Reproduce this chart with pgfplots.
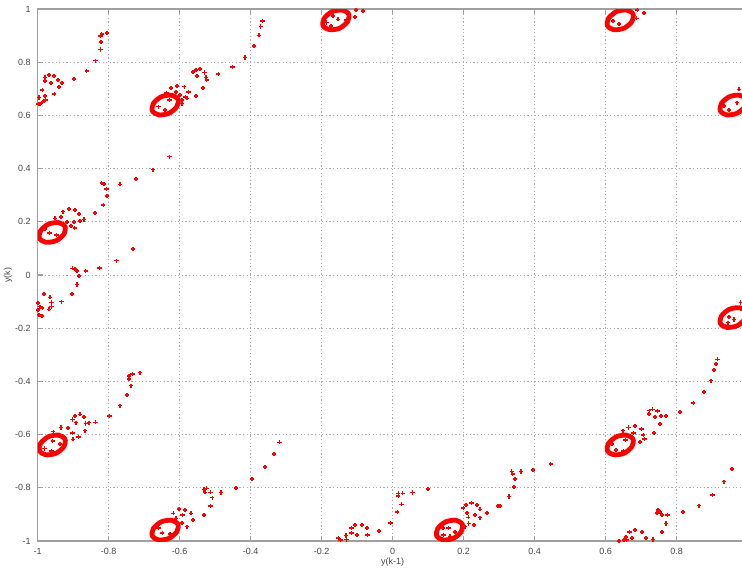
\documentclass[border=0pt]{standalone}
\usepackage{fontspec}
\setmainfont{Liberation Sans}
\usepackage{pgfplots}
\pgfplotsset{compat=1.18}
\begin{document}
\begin{tikzpicture}
\begin{axis}[
  at={(0,0)}, anchor=south west,
  scale only axis, width=355pt, height=266pt,
  xmin=-1, xmax=1, ymin=-1, ymax=1,
  xtick={-1,-0.8,-0.6,-0.4,-0.2,0,0.2,0.4,0.6,0.8,1},
  xticklabels={-1,-0.8,-0.6,-0.4,-0.2,0,0.2,0.4,0.6,0.8,{}},
  ytick={-1,-0.8,-0.6,-0.4,-0.2,0,0.2,0.4,0.6,0.8,1},
  yticklabels={-1,-0.8,-0.6,-0.4,-0.2,0,0.2,0.4,0.6,0.8,1},
  grid=major,
  major grid style={gray!65, line width=0.45pt, dash pattern=on 0.6pt off 1.2pt},
  axis line style={gray!75, line width=0.6pt},
  tick style={gray!75, line width=0.6pt},
  tick align=inside, major tick length=2.5pt,
  ticklabel style={font=\fontsize{4.5}{5}\selectfont, text=black!72},
  label style={font=\fontsize{4.5}{5}\selectfont, text=black!72},
  xlabel={y(k-1)}, ylabel={y(k)},
  xlabel style={at={(axis description cs:0.5,-0.0395)}, anchor=center},
  ylabel style={at={(axis description cs:-0.0418,0.5)}, anchor=center, rotate=0},
]
% scattered points
\addplot[only marks, mark=+, color=red, mark size=1.05pt, mark options={draw=red, fill=red, line width=0.8pt, solid}] coordinates {
(-0.998,0.643) (-0.994,0.643) (-0.996,0.667) (-0.987,0.695) (-0.979,0.674) (-0.986,0.651) (-0.978,0.658) (-0.979,0.730) (-0.979,0.743) (-0.969,0.752) (-0.963,0.721) (-0.954,0.749) (-0.953,0.680) (-0.942,0.733) (-0.932,0.721) (-0.940,0.706) (-0.897,0.737) (-0.862,0.768) (-0.837,0.806) (-0.823,0.848) (-0.821,0.876) (-0.823,0.898) (-0.820,0.906) (-0.804,0.909)
(-0.629,0.445) (-0.676,0.396) (-0.723,0.360) (-0.768,0.341) (-0.820,0.345) (-0.813,0.342) (-0.806,0.323) (-0.804,0.298)
(-0.625,0.702) (-0.607,0.711) (-0.599,0.677) (-0.593,0.658) (-0.584,0.670) (-0.575,0.687) (-0.587,0.708) (-0.594,0.645) (-0.579,0.664) (-0.641,0.620) (-0.660,0.633) (-0.629,0.658) (-0.610,0.689) (-0.637,0.685)
(-0.562,0.764) (-0.554,0.771) (-0.543,0.774) (-0.552,0.749) (-0.530,0.761) (-0.526,0.743) (-0.524,0.733) (-0.534,0.702) (-0.554,0.674) (-0.491,0.756) (-0.451,0.781) (-0.416,0.818)
(-0.391,0.861) (-0.377,0.901) (-0.372,0.934) (-0.367,0.955)
(-0.103,0.996) (-0.083,0.992) (-0.106,0.971) (-0.130,0.959) (-0.186,0.949) (-0.169,0.974) (-0.154,0.961) (-0.174,0.936)
(0.689,0.996) (0.708,0.986) (0.687,0.965) (0.621,0.956) (0.638,0.944)
(0.975,0.698) (0.933,0.635) (0.948,0.620) (0.969,0.648)
(-0.951,0.213) (-0.935,0.219) (-0.928,0.238) (-0.912,0.248) (-0.895,0.244) (-0.884,0.229) (-0.898,0.200) (-0.907,0.184) (-0.896,0.176) (-0.881,0.203) (-0.870,0.209) (-0.918,0.200) (-0.839,0.232) (-0.815,0.263) (-0.967,0.157) (-0.947,0.150) (-0.979,0.173)
(-0.731,0.098) (-0.778,0.054) (-0.826,0.027) (-0.865,0.015) (-0.890,0.015) (-0.902,0.025) (-0.895,0.022) (-0.884,-0.004) (-0.889,-0.036) (-0.904,-0.071) (-0.933,-0.100) (-0.961,-0.103) (-0.965,-0.084) (-0.961,-0.119) (-0.968,-0.129) (-0.983,-0.071) (-0.999,-0.106) (-0.994,-0.119) (-0.987,-0.125) (-0.996,-0.150) (-0.988,-0.154) (-0.999,-0.132)
(-0.712,-0.367) (-0.733,-0.373) (-0.742,-0.379) (-0.742,-0.391) (-0.738,-0.416) (-0.748,-0.451) (-0.768,-0.491) (-0.798,-0.529) (-0.837,-0.554)
(-0.881,-0.524) (-0.895,-0.529) (-0.902,-0.543) (-0.892,-0.555) (-0.869,-0.533) (-0.865,-0.558) (-0.856,-0.555) (-0.867,-0.585) (-0.885,-0.610) (-0.902,-0.593) (-0.914,-0.576) (-0.935,-0.573) (-0.956,-0.589) (-0.900,-0.618) (-0.958,-0.624) (-0.937,-0.635) (-0.981,-0.652) (-0.961,-0.662)
(-0.441,-0.800) (-0.484,-0.818) (-0.532,-0.806) (-0.524,-0.802) (-0.529,-0.817) (-0.513,-0.817) (-0.508,-0.837) (-0.513,-0.868) (-0.532,-0.902) (-0.562,-0.921) (-0.569,-0.896) (-0.585,-0.883) (-0.602,-0.880) (-0.618,-0.896) (-0.592,-0.902) (-0.580,-0.946) (-0.594,-0.933) (-0.610,-0.915) (-0.660,-0.950) (-0.649,-0.969) (-0.627,-0.974)
(-0.397,-0.767) (-0.360,-0.721) (-0.334,-0.673) (-0.319,-0.629)
(-0.153,-0.988) (-0.147,-0.996) (-0.130,-0.994) (-0.132,-0.979) (-0.116,-0.971) (-0.116,-0.952) (-0.106,-0.940) (-0.087,-0.940) (-0.100,-0.977) (-0.073,-0.950) (-0.071,-0.977) (-0.038,-0.962) (-0.006,-0.933) (0.013,-0.892) (0.025,-0.862) (0.016,-0.821) (0.016,-0.831) (0.028,-0.821) (0.056,-0.818) (0.100,-0.805)
(0.199,-0.877) (0.206,-0.865) (0.222,-0.858) (0.238,-0.865) (0.246,-0.881) (0.265,-0.894) (0.246,-0.912) (0.232,-0.902) (0.229,-0.940) (0.213,-0.911) (0.210,-0.894) (0.214,-0.934) (0.204,-0.946) (0.297,-0.869) (0.141,-0.952) (0.157,-0.952) (0.175,-0.965) (0.143,-0.977) (0.161,-0.983)
(0.302,-0.868) (0.328,-0.833) (0.342,-0.796) (0.345,-0.767) (0.338,-0.749) (0.335,-0.739) (0.361,-0.739) (0.396,-0.733) (0.445,-0.711)
(0.617,-0.635) (0.629,-0.658) (0.650,-0.661) (0.656,-0.620) (0.648,-0.585) (0.664,-0.573) (0.683,-0.567) (0.701,-0.580) (0.678,-0.595) (0.706,-0.602) (0.709,-0.617) (0.697,-0.627) (0.736,-0.593) (0.753,-0.560) (0.739,-0.533) (0.756,-0.530) (0.770,-0.530) (0.746,-0.511) (0.732,-0.505) (0.723,-0.510) (0.722,-0.523) (0.809,-0.514) (0.847,-0.482) (0.877,-0.439) (0.897,-0.397) (0.905,-0.357) (0.910,-0.335) (0.915,-0.317)
(0.980,-0.103) (0.947,-0.157) (0.962,-0.167) (0.945,-0.179)
(0.955,-0.730) (0.934,-0.777) (0.901,-0.827) (0.862,-0.867) (0.817,-0.890) (0.774,-0.902) (0.769,-0.934) (0.758,-0.965) (0.759,-0.902) (0.753,-0.892) (0.748,-0.883) (0.745,-0.894) (0.734,-0.994) (0.713,-0.988) (0.703,-0.967) (0.683,-0.959) (0.667,-0.965) (0.674,-0.988) (0.657,-0.984) (0.652,-0.996) (0.637,-0.999) (0.659,-0.996)
};
% dense rings (attractor clusters)
\pgfplotsset{ring/.style={red, line width=2.4pt, smooth cycle, no marks}}
\addplot[ring] coordinates {(-0.605,0.661) (-0.623,0.676) (-0.652,0.670) (-0.674,0.645) (-0.677,0.617) (-0.659,0.602) (-0.630,0.608) (-0.608,0.633)};
\addplot[ring] coordinates {(-0.124,0.981) (-0.142,0.996) (-0.171,0.990) (-0.193,0.965) (-0.196,0.937) (-0.178,0.922) (-0.149,0.928) (-0.127,0.953)};
\addplot[ring] coordinates {(0.677,0.981) (0.659,0.996) (0.630,0.990) (0.608,0.965) (0.605,0.937) (0.623,0.922) (0.652,0.928) (0.674,0.953)};
\addplot[ring] coordinates {(0.995,0.661) (0.977,0.676) (0.948,0.670) (0.926,0.645) (0.923,0.617) (0.941,0.602) (0.970,0.608) (0.992,0.633)};
\addplot[ring] coordinates {(0.995,-0.138) (0.977,-0.123) (0.948,-0.129) (0.926,-0.154) (0.923,-0.182) (0.941,-0.197) (0.970,-0.191) (0.992,-0.166)};
\addplot[ring] coordinates {(0.677,-0.617) (0.659,-0.602) (0.630,-0.608) (0.608,-0.633) (0.605,-0.661) (0.623,-0.676) (0.652,-0.670) (0.674,-0.645)};
\addplot[ring] coordinates {(0.196,-0.937) (0.178,-0.922) (0.149,-0.928) (0.127,-0.953) (0.124,-0.981) (0.142,-0.996) (0.171,-0.990) (0.193,-0.965)};
\addplot[ring] coordinates {(-0.605,-0.937) (-0.623,-0.922) (-0.652,-0.928) (-0.674,-0.953) (-0.677,-0.981) (-0.659,-0.996) (-0.630,-0.990) (-0.608,-0.965)};
\addplot[ring] coordinates {(-0.923,-0.617) (-0.941,-0.602) (-0.970,-0.608) (-0.992,-0.633) (-0.995,-0.661) (-0.977,-0.676) (-0.948,-0.670) (-0.926,-0.645)};
\addplot[ring] coordinates {(-0.923,0.182) (-0.941,0.197) (-0.970,0.191) (-0.992,0.166) (-0.995,0.138) (-0.977,0.123) (-0.948,0.129) (-0.926,0.154)};
\end{axis}
\pgfresetboundingbox
\useasboundingbox (-18.85pt,-14pt) rectangle (352.15pt,270.5pt);
\end{tikzpicture}
\end{document}
